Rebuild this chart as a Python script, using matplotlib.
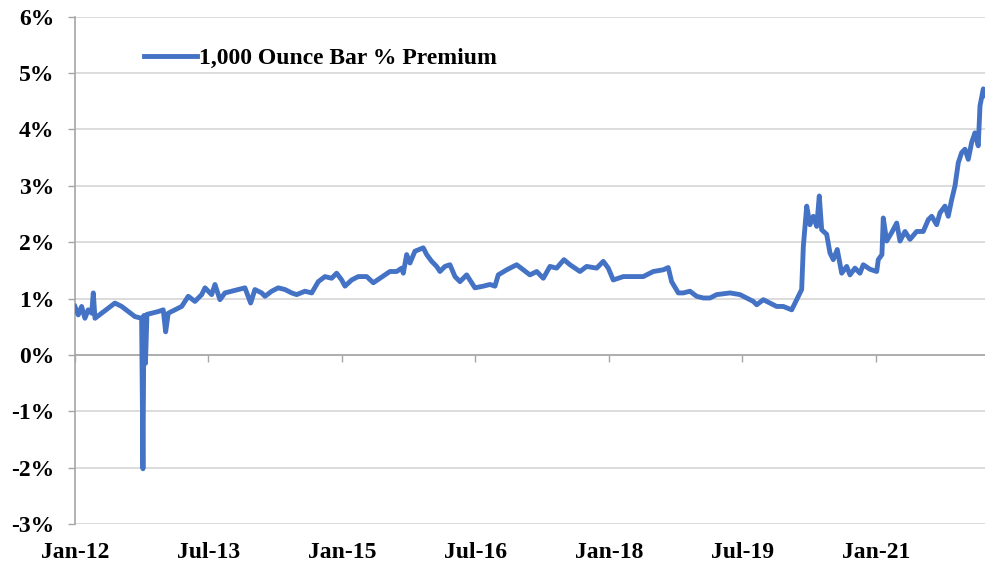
import matplotlib
matplotlib.use('Agg')
import matplotlib.pyplot as plt

# Premium of 1,000 oz bars (decimal year, % premium)
years = [
    2012.000, 2012.037, 2012.075, 2012.112, 2012.149, 2012.188, 2012.206, 2012.225,
    2012.300, 2012.374, 2012.449, 2012.525, 2012.599, 2012.674, 2012.749, 2012.764,
    2012.775, 2012.792, 2012.809, 2012.862, 2012.936, 2012.992, 2013.019, 2013.048,
    2013.124, 2013.199, 2013.273, 2013.348, 2013.424, 2013.461, 2013.536, 2013.573,
    2013.629, 2013.685, 2013.761, 2013.835, 2013.910, 2013.974, 2014.022, 2014.098,
    2014.135, 2014.210, 2014.284, 2014.360, 2014.435, 2014.491, 2014.584, 2014.660,
    2014.734, 2014.809, 2014.884, 2014.940, 2014.997, 2015.034, 2015.109, 2015.183,
    2015.278, 2015.352, 2015.427, 2015.539, 2015.615, 2015.671, 2015.689, 2015.727,
    2015.764, 2015.820, 2015.913, 2015.952, 2016.008, 2016.064, 2016.101, 2016.157,
    2016.213, 2016.270, 2016.326, 2016.401, 2016.457, 2016.494, 2016.588, 2016.663,
    2016.719, 2016.756, 2016.851, 2016.963, 2017.037, 2017.112, 2017.188, 2017.262,
    2017.337, 2017.412, 2017.494, 2017.562, 2017.674, 2017.749, 2017.862, 2017.936,
    2017.992, 2018.048, 2018.161, 2018.273, 2018.385, 2018.498, 2018.610, 2018.666,
    2018.704, 2018.779, 2018.835, 2018.910, 2018.985, 2019.060, 2019.135, 2019.210,
    2019.360, 2019.472, 2019.547, 2019.621, 2019.660, 2019.734, 2019.809, 2019.884,
    2019.958, 2020.053, 2020.109, 2020.165, 2020.184, 2020.222, 2020.258, 2020.296,
    2020.334, 2020.363, 2020.390, 2020.446, 2020.483, 2020.520, 2020.565, 2020.615,
    2020.671, 2020.708, 2020.764, 2020.820, 2020.857, 2020.933, 2021.008, 2021.026,
    2021.067, 2021.082, 2021.120, 2021.176, 2021.233, 2021.270, 2021.326, 2021.382,
    2021.457, 2021.531, 2021.588, 2021.626, 2021.682, 2021.719, 2021.775, 2021.812,
    2021.850, 2021.888, 2021.925, 2021.963, 2022.000, 2022.037, 2022.075, 2022.112,
    2022.149, 2022.169, 2022.206, 2022.225,
]
premium = [
    0.86, 0.71, 0.86, 0.65, 0.80, 0.74, 1.10, 0.65,
    0.74, 0.83, 0.92, 0.86, 0.77, 0.68, 0.65, -2.02,
    0.70, -0.15, 0.72, 0.74, 0.77, 0.80, 0.41, 0.74,
    0.80, 0.86, 1.04, 0.95, 1.07, 1.19, 1.07, 1.25,
    0.98, 1.10, 1.13, 1.16, 1.19, 0.92, 1.16, 1.10,
    1.04, 1.13, 1.19, 1.16, 1.10, 1.07, 1.13, 1.10,
    1.30, 1.39, 1.36, 1.45, 1.33, 1.22, 1.33, 1.39,
    1.39, 1.28, 1.36, 1.48, 1.48, 1.54, 1.45, 1.78,
    1.63, 1.84, 1.90, 1.78, 1.66, 1.57, 1.48, 1.57,
    1.60, 1.39, 1.30, 1.42, 1.28, 1.19, 1.22, 1.25,
    1.22, 1.42, 1.51, 1.60, 1.51, 1.42, 1.48, 1.36,
    1.57, 1.54, 1.69, 1.60, 1.48, 1.57, 1.54, 1.66,
    1.54, 1.33, 1.39, 1.39, 1.39, 1.48, 1.51, 1.55,
    1.30, 1.10, 1.10, 1.13, 1.04, 1.01, 1.01, 1.07,
    1.10, 1.07, 1.01, 0.95, 0.89, 0.98, 0.92, 0.86,
    0.86, 0.80, 0.98, 1.16, 1.93, 2.64, 2.31, 2.46,
    2.28, 2.82, 2.22, 2.14, 1.81, 1.69, 1.87, 1.45,
    1.57, 1.42, 1.54, 1.45, 1.60, 1.52, 1.48, 1.69,
    1.78, 2.43, 2.02, 2.17, 2.34, 2.02, 2.19, 2.05,
    2.19, 2.19, 2.40, 2.46, 2.31, 2.52, 2.64, 2.46,
    2.75, 3.00, 3.41, 3.59, 3.65, 3.47, 3.77, 3.94,
    3.71, 4.42, 4.72, 4.60,
]

# axis ticks
x_ticks = [2012.0, 2013.5, 2015.0, 2016.5, 2018.0, 2019.5, 2021.0]
x_labels = ['Jan-12', 'Jul-13', 'Jan-15', 'Jul-16', 'Jan-18', 'Jul-19', 'Jan-21']
y_ticks = [-3, -2, -1, 0, 1, 2, 3, 4, 5, 6]
y_labels = ['%d%%' % v for v in y_ticks]

font = {'family': 'Liberation Serif', 'weight': 'bold', 'size': 17}

fig = plt.figure(figsize=(9.85, 5.67), dpi=100)
ax = fig.add_axes([0.0761, 0.0758, 0.9239, 0.8947])

ax.plot(years, premium, color='#4472C4', linewidth=3.5, zorder=3,
        solid_joinstyle='round', label='1,000 Ounce Bar % Premium')

ax.set_xlim(2012.0, 2022.225)
ax.set_ylim(-3, 6)

# y axis
ax.set_yticks(y_ticks)
ax.set_yticklabels(y_labels, fontdict=font)
ax.tick_params(axis='y', direction='out', length=5, width=1, color='#A6A6A6', pad=10)
ax.grid(axis='y', color='#D9D9D9', linewidth=1.3, zorder=0)

# x axis sits on the 0% line, labels sit under the plot
ax.spines['bottom'].set_position(('data', 0))
ax.set_xticks(x_ticks)
ax.tick_params(axis='x', direction='out', length=5, width=1, color='#A6A6A6', labelbottom=False)
for t, lab in zip(x_ticks, x_labels):
    ax.text(t, -0.057, lab, transform=ax.get_xaxis_transform(), ha='center', va='center', fontdict=font)

for side in ['top', 'right']:
    ax.spines[side].set_visible(False)
ax.spines['left'].set_color('#A6A6A6')
ax.spines['bottom'].set_color('#A6A6A6')
ax.spines['left'].set_linewidth(1.2)
ax.spines['bottom'].set_linewidth(1.2)

ax.legend(loc='center left', bbox_to_anchor=(0.0758, 0.9186), frameon=False,
          prop=font, handlelength=2.25, handletextpad=0.1, borderpad=0, borderaxespad=0)

fig.savefig('out.png', dpi=100)
